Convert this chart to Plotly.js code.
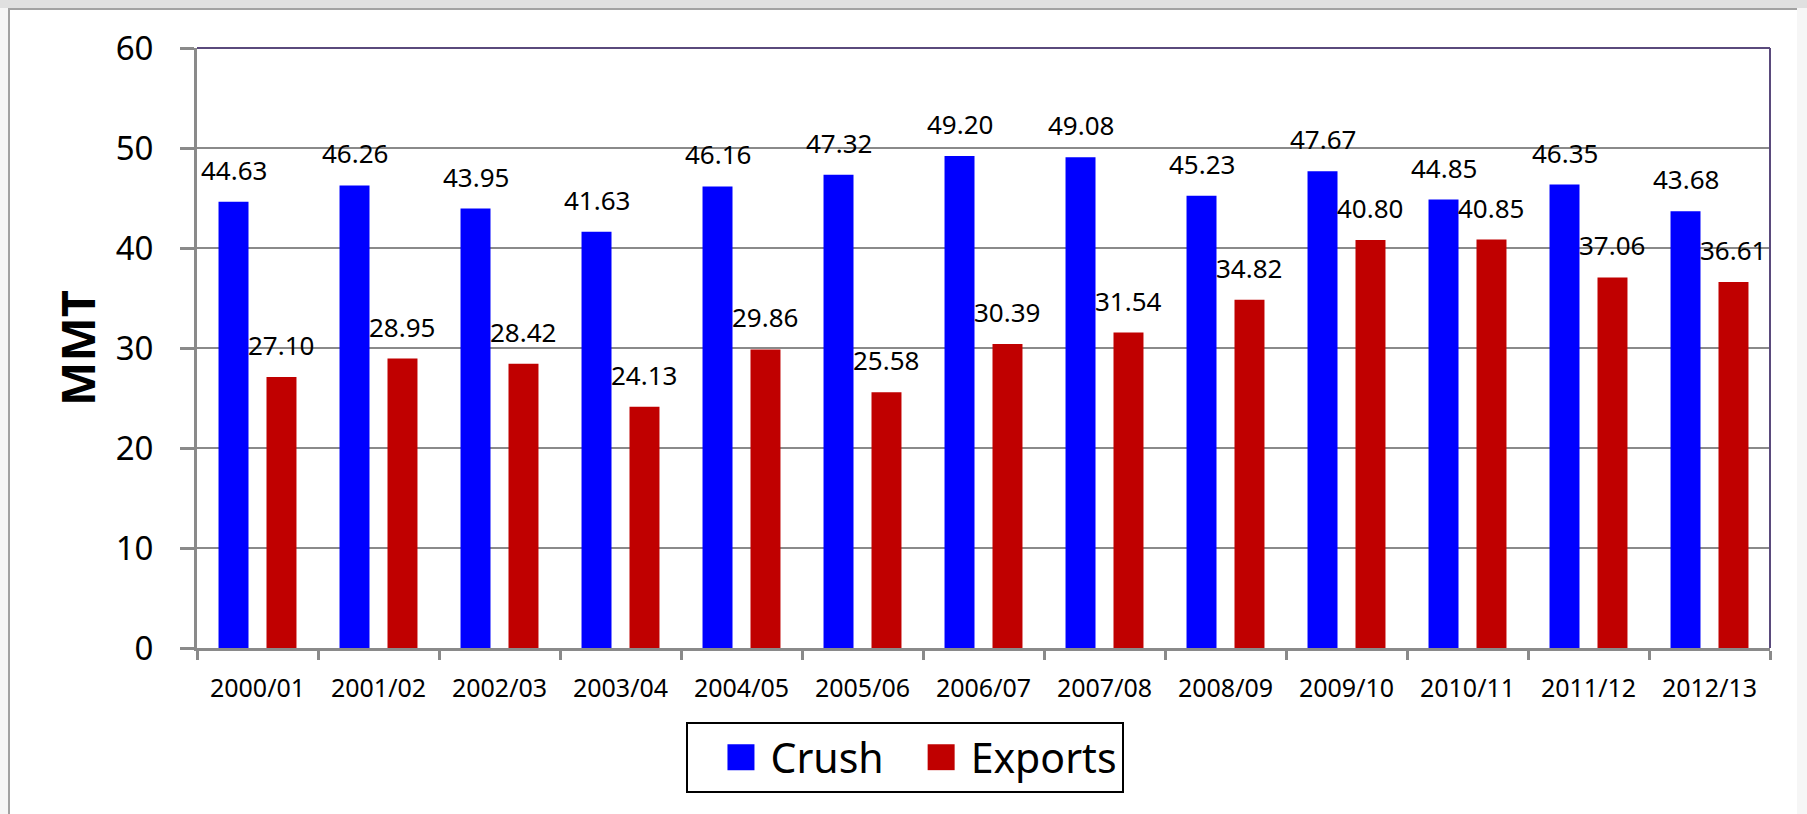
<!DOCTYPE html>
<html>
<head>
<meta charset="utf-8">
<script src="https://cdn.plot.ly/plotly-3.0.1.min.js"></script>
<style>
  html, body { margin: 0; padding: 0; width: 1807px; height: 814px; overflow: hidden; background: #e0e0e0; }
  #band { position: absolute; left: 0; top: 8px; width: 1807px; height: 806px; background: #f6f6f6; }
  #chart { position: absolute; left: 8px; top: 8px; width: 1787px; height: 804px;
           border-left: 2px solid #a2a2a2; border-top: 2px solid #a2a2a2; background: #fff; }
</style>
</head>
<body>
<div id="band"></div>
<div id="chart"></div>
<script>
// ---- data ----
const categories = ["2000/01","2001/02","2002/03","2003/04","2004/05","2005/06","2006/07",
                    "2007/08","2008/09","2009/10","2010/11","2011/12","2012/13"];
const crush   = [44.63, 46.26, 43.95, 41.63, 46.16, 47.32, 49.20, 49.08, 45.23, 47.67, 44.85, 46.35, 43.68];
const exports_ = [27.10, 28.95, 28.42, 24.13, 29.86, 25.58, 30.39, 31.54, 34.82, 40.80, 40.85, 37.06, 36.61];
const seriesNames = ["Crush", "Exports"];
const yTicks = [0, 10, 20, 30, 40, 50, 60];

const FONT = '"Noto Sans", "Open Sans", sans-serif';
const BARGAP = 0.207;
const groupOffset = (1 - BARGAP) / 4;   // centre of each bar in category units

const traces = [
  { type: 'bar', name: seriesNames[0], x: categories, y: crush,
    marker: { color: '#0000ff' }, hoverinfo: 'x+y' },
  { type: 'bar', name: seriesNames[1], x: categories, y: exports_,
    marker: { color: '#c00000' }, hoverinfo: 'x+y' }
];

// value labels above bars
const annotations = [];
[crush, exports_].forEach((vals, si) => {
  vals.forEach((v, i) => {
    annotations.push({
      x: i + (si === 0 ? -groupOffset : groupOffset), y: v,
      xref: 'x', yref: 'y', text: v.toFixed(2), showarrow: false,
      xanchor: 'center', yanchor: 'bottom', yshift: 12,
      font: { family: FONT, size: 26, color: '#000' }
    });
  });
});

const layout = {
  width: 1787, height: 804,
  margin: { l: 187, r: 27, t: 38, b: 166 },
  paper_bgcolor: '#ffffff', plot_bgcolor: '#ffffff',
  barmode: 'group', bargap: BARGAP, bargroupgap: 0.375,
  font: { family: FONT, color: '#000' },
  xaxis: {
    type: 'category', categoryarray: categories,
    showline: true, linecolor: '#8a8a8a', linewidth: 3,
    ticks: 'outside', tickson: 'boundaries', ticklen: 9, tickwidth: 3, tickcolor: '#8a8a8a',
    tickfont: { family: FONT, size: 25, color: '#000' },
    ticklabelstandoff: 16,
    showgrid: false, zeroline: false, fixedrange: true
  },
  yaxis: {
    range: [0, 60], tickvals: yTicks,
    showline: true, linecolor: '#8a8a8a', linewidth: 3,
    ticks: 'outside', ticklen: 14, tickwidth: 3, tickcolor: '#8a8a8a',
    tickfont: { family: FONT, size: 33, color: '#000' },
    ticklabelstandoff: 20,
    showgrid: true, gridcolor: '#8a8a8a', gridwidth: 2,
    zeroline: false, fixedrange: true,
    title: { text: 'MMT', font: { family: FONT, size: 47, color: '#000', weight: 'bold' }, standoff: 6 }
  },
  shapes: [
    { type: 'line', xref: 'paper', yref: 'paper', x0: 0, x1: 1, y0: 1, y1: 1,
      line: { color: '#5a4a7c', width: 2 }, layer: 'above' },
    { type: 'line', xref: 'paper', yref: 'paper', x0: 1, x1: 1, y0: 0, y1: 1,
      line: { color: '#5a4a7c', width: 2 }, layer: 'above' }
  ],
  annotations: annotations,
  showlegend: true,
  legend: {
    orientation: 'h', xref: 'container', yref: 'container',
    x: 0.5011, xanchor: 'center', y: 0.1144, yanchor: 'top',
    bordercolor: '#000', borderwidth: 2, bgcolor: '#fff',
    font: { family: FONT, size: 41, color: '#000' },
    itemwidth: 72, itemclick: false, itemdoubleclick: false
  }
};

Plotly.newPlot('chart', traces, layout, { displayModeBar: false, staticPlot: true }).then(gd => {
  // enlarge legend swatches to match the reference's big squares
  document.querySelectorAll('#chart .legend g.legendpoints path').forEach(p => {
    p.setAttribute('d', 'M-2,13H25V-13H-2Z');
  });
});
</script>
</body>
</html>
